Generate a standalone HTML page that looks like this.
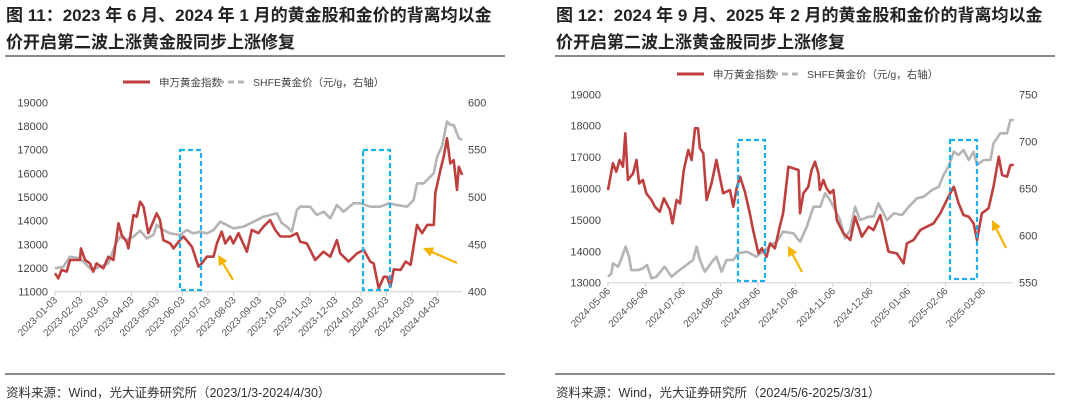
<!DOCTYPE html>
<html><head><meta charset="utf-8"><style>
body{margin:0;width:1080px;height:410px;background:#fff;overflow:hidden;position:relative;font-family:"Liberation Sans","Noto Sans CJK SC",sans-serif}
.t{position:absolute;font-size:17px;font-weight:bold;color:#222;line-height:27px;white-space:nowrap;letter-spacing:0}
.rule{position:absolute;height:2px;background:#8a8a8a}
.src{position:absolute;font-size:12.5px;color:#333}
svg{position:absolute;left:0;top:0}
</style></head><body>
<div class="t" style="left:6px;top:2px">图 11：2023 年 6 月、2024 年 1 月的黄金股和金价的背离均以金<br>价开启第二波上涨黄金股同步上涨修复</div>
<div class="t" style="left:556px;top:2px">图 12：2024 年 9 月、2025 年 2 月的黄金股和金价的背离均以金<br>价开启第二波上涨黄金股同步上涨修复</div>
<div class="rule" style="left:5px;top:55px;width:500px"></div>
<div class="rule" style="left:555px;top:55px;width:500px"></div>
<div class="rule" style="left:5px;top:373px;width:500px;height:1.5px"></div>
<div class="rule" style="left:555px;top:373px;width:500px;height:1.5px"></div>
<div class="src" style="left:6px;top:382px">资料来源：Wind，光大证券研究所（2023/1/3-2024/4/30）</div>
<div class="src" style="left:556px;top:382px">资料来源：Wind，光大证券研究所（2024/5/6-2025/3/31）</div>
<svg id="chart" width="1080" height="410"></svg>
<script>
// Left chart data (x = months since 2023-01-03)
const leftTicks=["2023-01-03","2023-02-03","2023-03-03","2023-04-03","2023-05-03","2023-06-03","2023-07-03","2023-08-03","2023-09-03","2023-10-03","2023-11-03","2023-12-03","2024-01-03","2024-02-03","2024-03-03","2024-04-03"];
const leftYTicks=[11000,12000,13000,14000,15000,16000,17000,18000,19000];
const leftY2Ticks=[400,450,500,550,600];
const leftRedX=[0,0.13,0.26,0.46,0.59,0.98,1.02,1.18,1.37,1.5,1.63,1.9,2.09,2.29,2.49,2.62,2.81,2.88,3.08,3.21,3.34,3.47,3.66,3.99,4.12,4.25,4.52,4.65,4.9,5.04,5.37,5.63,5.76,5.96,6.22,6.35,6.54,6.68,6.87,7.0,7.2,7.53,7.72,7.98,8.18,8.44,8.64,8.84,9.23,9.49,9.62,9.88,10.21,10.53,10.8,11.06,11.19,11.52,11.85,12.11,12.37,12.5,12.7,12.9,13.03,13.16,13.29,13.56,13.76,13.95,14.2,14.4,14.6,14.86,14.92,15.12,15.25,15.38,15.51,15.64,15.77,15.84,15.97];
const leftRed=[11780,11560,11920,11850,12340,12340,12830,12340,12200,11850,12200,11990,12480,12340,13890,13390,13110,12830,14240,14170,14800,14590,13470,14310,14030,13180,13040,12830,13180,13330,12900,12060,12200,12480,12480,13040,13540,13040,13330,13040,13470,12690,13610,13470,13750,14030,13610,13330,13330,13470,13110,13040,12340,12690,12480,13180,12620,12270,12620,12760,12270,12200,11140,11630,11630,11210,11940,11920,12270,12130,13820,13470,13820,13820,15160,16140,16700,17480,16420,16560,15300,16280,15930];
const leftGoldX=[0,0.33,0.59,0.98,1.18,1.44,1.77,2.09,2.36,2.55,2.81,3.08,3.34,3.6,3.86,3.99,4.25,4.52,4.91,5.17,5.43,5.69,5.96,6.22,6.48,6.74,7.0,7.4,7.79,8.18,8.44,8.7,8.9,9.1,9.29,9.49,9.62,10.01,10.27,10.54,10.8,11.06,11.32,11.71,11.98,12.37,12.76,13.09,13.42,13.81,14.07,14.2,14.46,14.66,14.86,14.99,15.18,15.38,15.51,15.64,15.84,15.97];
const leftGold=[424.6,426.4,437.0,435.2,430.0,422.9,426.4,430.0,449.3,458.1,454.6,458.1,464.4,456.3,459.9,470.4,465.1,461.6,459.9,465.1,461.6,463.4,461.6,465.1,473.9,470.4,466.9,468.7,473.9,479.2,481.0,482.8,472.2,468.7,463.4,486.3,489.8,489.8,481.0,484.5,477.5,491.5,484.5,493.3,493.3,489.8,489.8,493.3,491.5,489.8,496.8,514.4,514.4,519.7,525.0,542.6,553.2,579.6,576.1,576.1,562.0,560.2];
// Right chart data (x = months since 2024-05-06)
const rightTicks=["2024-05-06","2024-06-06","2024-07-06","2024-08-06","2024-09-06","2024-10-06","2024-11-06","2024-12-06","2025-01-06","2025-02-06","2025-03-06"];
const rightYTicks=[13000,14000,15000,16000,17000,18000,19000];
const rightY2Ticks=[550,600,650,700,750];
const rightRedX=[0,0.13,0.22,0.31,0.4,0.46,0.53,0.67,0.76,0.83,0.93,1.02,1.16,1.25,1.38,1.49,1.65,1.72,1.83,1.92,2.02,2.14,2.23,2.32,2.4,2.45,2.54,2.63,2.76,2.89,3.07,3.25,3.34,3.43,3.52,3.65,3.78,3.87,4.01,4.1,4.23,4.32,4.45,4.59,4.67,4.81,5.08,5.12,5.21,5.34,5.43,5.52,5.61,5.65,5.74,5.83,5.92,6.01,6.1,6.28,6.46,6.59,6.77,6.95,7.08,7.26,7.48,7.7,7.88,7.97,8.15,8.33,8.5,8.68,8.86,9.08,9.22,9.35,9.48,9.62,9.75,9.84,9.97,10.15,10.28,10.42,10.51,10.64,10.73,10.82];
const rightRed=[15952,16802,16536,16908,16695,17757,16271,16483,16908,16164,16271,15846,15633,15421,15262,15687,15315,14890,15633,15527,16589,17226,16908,17917,17917,17280,17120,15633,16164,16908,15846,15952,15421,16005,16377,15899,15209,14678,13934,14094,13828,14253,14094,14837,15209,16695,16589,15209,15846,16058,16589,16855,16483,15952,16271,16005,15846,15952,14996,14571,14359,15102,14465,14784,14678,15156,13987,13934,13616,14253,14359,14678,14784,14890,15209,15740,16058,15527,15156,15102,14890,14359,15209,15368,16058,17014,16430,16377,16749,16749];
const rightGoldX=[0,0.09,0.13,0.27,0.36,0.47,0.56,0.62,0.8,0.93,1.04,1.16,1.29,1.51,1.69,1.91,2.09,2.27,2.36,2.45,2.58,2.81,2.89,3.03,3.16,3.34,3.47,3.7,3.96,4.19,4.32,4.5,4.67,4.94,5.12,5.3,5.48,5.66,5.79,5.92,6.06,6.19,6.32,6.46,6.59,6.72,6.95,7.08,7.21,7.44,7.62,7.84,8.02,8.24,8.42,8.64,8.82,8.95,9.08,9.22,9.35,9.48,9.62,9.75,9.84,10.02,10.2,10.28,10.46,10.64,10.73,10.82];
const rightGold=[556.4,559.9,570.5,567.0,575.8,588.2,577.6,563.4,563.4,565.2,568.8,554.6,556.4,567.0,556.4,563.4,568.8,574.1,588.2,574.1,561.7,574.1,577.6,561.7,574.1,574.1,581.1,582.9,577.6,584.7,590.0,593.5,604.1,602.4,593.5,609.5,630.7,630.7,644.9,637.8,627.2,616.5,597.1,605.9,630.7,616.5,620.1,620.1,634.2,616.5,623.6,621.9,630.7,639.6,641.3,648.4,651.9,664.3,673.2,689.1,685.6,690.9,680.3,689.1,675.0,680.3,680.3,698.0,708.6,708.6,722.7,722.7];

const NS="http://www.w3.org/2000/svg";
const svg=document.getElementById('chart');
function mk(tag,attrs,parent){const e=document.createElementNS(NS,tag);for(const k in attrs)e.setAttribute(k,attrs[k]);(parent||svg).appendChild(e);return e;}
function pathFrom(xs,vs,sx,sy){return xs.map((x,i)=>(i?'L':'M')+sx(x).toFixed(1)+','+sy(vs[i]).toFixed(1)).join('');}

function drawChart(cfg){
  const g=mk('g',{});
  
  
  const sx=m=>cfg.x0+m*cfg.pxPerMonth;
  const sy=v=>cfg.yTop+(cfg.yMax-v)/(cfg.yMax-cfg.yMin)*(cfg.yBot-cfg.yTop);
  const sy2=v=>cfg.yTop+(cfg.y2Max-v)/(cfg.y2Max-cfg.y2Min)*(cfg.yBot-cfg.yTop);
  const ax=mk('line',{x1:cfg.x0,x2:cfg.xEnd,y1:cfg.yBot,y2:cfg.yBot,stroke:'#d0d0d0','stroke-width':1},g);
  
  
  cfg.yTicks.forEach(v=>{const t=mk('text',{x:cfg.x0-7,y:sy(v)+4,'text-anchor':'end','font-size':11,fill:'#444'},g);t.textContent=v;
    
    });
  cfg.y2Ticks.forEach(v=>{const t=mk('text',{x:cfg.xEnd+6,y:sy2(v)+4,'font-size':11,fill:'#444'},g);t.textContent=v;
    
    });
  cfg.ticks.forEach((lab,i)=>{const x=sx(i);
    mk('line',{x1:x,x2:x,y1:cfg.yBot,y2:cfg.yBot+4,stroke:'#ccc'},g);
    const t=mk('text',{x:x+3,y:cfg.yBot+9,'text-anchor':'end','font-size':10,fill:'#555',transform:`rotate(-45 ${x+3} ${cfg.yBot+9})`},g);t.textContent=lab;
    
    });
  const gp=mk('path',{d:pathFrom(cfg.goldX,cfg.gold,sx,sy2),fill:'none',stroke:'#b4b4b4','stroke-width':2.6,'stroke-linejoin':'round'},g);
  
  
  const rp=mk('path',{d:pathFrom(cfg.redX,cfg.red,sx,sy),fill:'none',stroke:'#bf3f3f','stroke-width':2.6,'stroke-linejoin':'round'},g);
  
  
  cfg.boxes.forEach(b=>{const r=mk('rect',{x:b[0],y:b[1],width:b[2]-b[0],height:b[3]-b[1],fill:'none',stroke:'#19b3ec','stroke-width':2.2,'stroke-dasharray':'5,3'},g);
    
    });
  cfg.arrows.forEach(a=>{const dx=a[2]-a[0],dy=a[3]-a[1],L=Math.hypot(dx,dy),ux=dx/L,uy=dy/L;
    const l=mk('line',{x1:a[0],y1:a[1],x2:a[2]-ux*6,y2:a[3]-uy*6,stroke:'#f5b400','stroke-width':2.2},g);
    
    
    const px=-uy,py=ux,bx=a[2]-ux*10,by=a[3]-uy*10;
    const h=mk('polygon',{points:`${a[2]},${a[3]} ${bx+px*5},${by+py*5} ${bx-px*5},${by-py*5}`,fill:'#f5b400'},g);
    
    });
  const L=cfg.legend;
  mk('line',{x1:L[0],x2:L[0]+27,y1:L[1],y2:L[1],stroke:'#bf3f3f','stroke-width':3},g);
  const t1=mk('text',{x:L[0]+36,y:L[1]+4,'font-size':10.5,fill:'#444'},g);t1.textContent='申万黄金指数';
  
  
  mk('line',{x1:L[0]+95,x2:L[0]+124,y1:L[1],y2:L[1],stroke:'#b4b4b4','stroke-width':3,'stroke-dasharray':'6,4'},g);
  const t2=mk('text',{x:L[0]+130,y:L[1]+4,'font-size':10.5,fill:'#444'},g);t2.textContent='SHFE黄金价（元/g，右轴）';
  
  
}
drawChart({name:'left-chart',x0:55,xEnd:462,pxPerMonth:25.49,yTop:102.3,yBot:291.7,yMin:11000,yMax:19000,y2Min:400,y2Max:600,
  ticks:leftTicks,yTicks:leftYTicks,y2Ticks:leftY2Ticks,redX:leftRedX,red:leftRed,goldX:leftGoldX,gold:leftGold,
  boxes:[[180,150,201,290],[363,150,390,290]],arrows:[[233,280,218,255],[457,263,423,248]],legend:[123,82]});
drawChart({name:'right-chart',x0:608,xEnd:1013,pxPerMonth:37.5,yTop:94.3,yBot:282.7,yMin:13000,yMax:19000,y2Min:550,y2Max:750,
  ticks:rightTicks,yTicks:rightYTicks,y2Ticks:rightY2Ticks,redX:rightRedX,red:rightRed,goldX:rightGoldX,gold:rightGold,
  boxes:[[738,140,765,281],[950,140,977,279]],arrows:[[802,272,788,246],[1006,248,992,220]],legend:[677,74]});
</script>
</body></html>
